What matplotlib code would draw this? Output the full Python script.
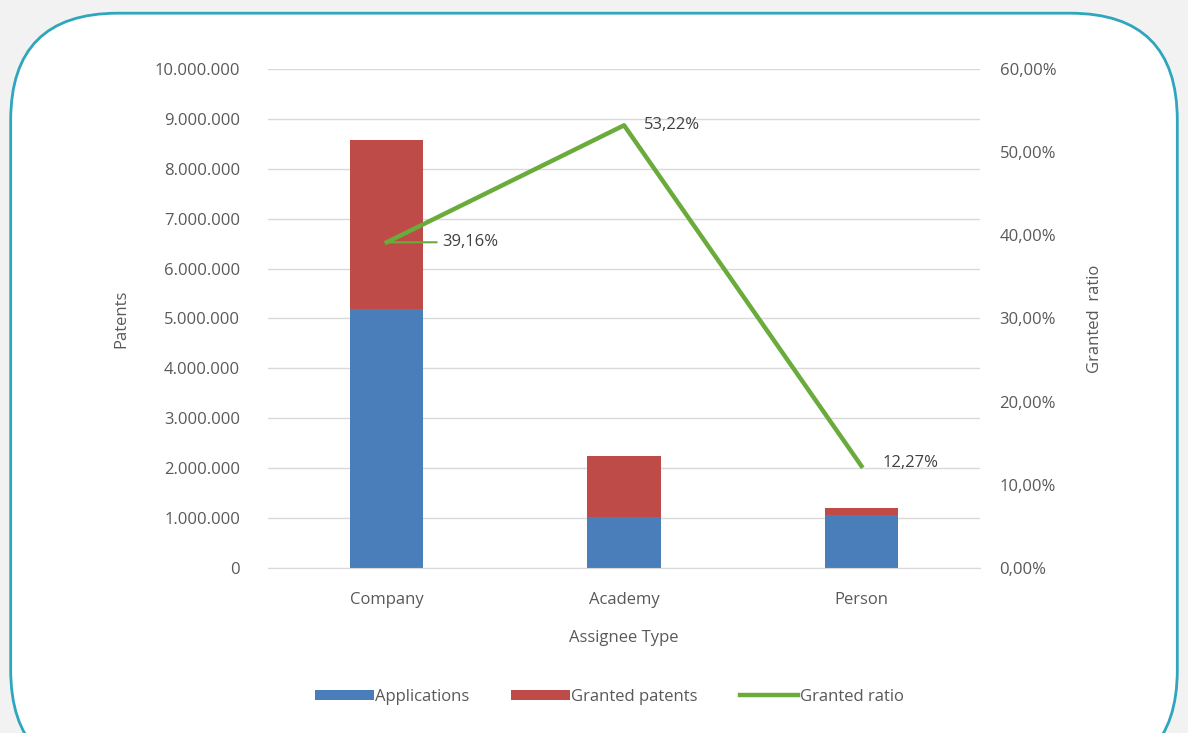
import matplotlib

matplotlib.use("Agg")
import matplotlib.pyplot as plt
from matplotlib.patches import FancyBboxPatch
from matplotlib.ticker import FuncFormatter, MultipleLocator

plt.rcParams["font.family"] = ["Open Sans", "DejaVu Sans"]

# data
categories = ["Company", "Academy", "Person"]
applications = [5190000, 1020000, 1060000]
granted = [3390000, 1220000, 140000]
ratio = [39.16, 53.22, 12.27]

BLUE = "#4a7ebb"
RED = "#be4b48"
GREEN = "#6aab3c"
TEXT = "#595959"

fig = plt.figure(figsize=(11.88, 7.33), dpi=100)
fig.patch.set_facecolor("#f2f2f2")

# rounded white panel with teal border, behind the axes
panel = FancyBboxPatch((0.009, -0.06), 0.982, 1.042,
                       boxstyle="round,pad=0,rounding_size=0.09",
                       transform=fig.transFigure, facecolor="white",
                       edgecolor="#2ea6bd", linewidth=2, mutation_aspect=1188 / 733,
                       zorder=-5)
fig.patches.append(panel)

ax = fig.add_axes([0.2256, 0.225, 0.5994, 0.681])
ax.set_facecolor("none")
x = range(len(categories))
ax.bar(x, applications, width=0.31, color=BLUE, label="Applications", zorder=2)
ax.bar(x, granted, width=0.31, bottom=applications, color=RED,
       label="Granted patents", zorder=2)

ax.set_xlim(-0.5, 2.5)
ax.set_ylim(0, 10000000)
ax.yaxis.set_major_locator(MultipleLocator(1000000))
ax.yaxis.set_major_formatter(FuncFormatter(lambda v, p: f"{int(v):,}".replace(",", ".")))
ax.grid(axis="y", color="#d9d9d9", linewidth=1, zorder=0)
ax.set_axisbelow(True)
ax.set_xticks(list(x))
ax.set_xticklabels(categories)
for s in ax.spines.values():
    s.set_visible(False)
ax.spines["bottom"].set_visible(True)
ax.spines["bottom"].set_color("#d9d9d9")
ax.tick_params(length=0, colors=TEXT, labelsize=12)
ax.tick_params(axis="y", pad=20)
ax.tick_params(axis="x", pad=17)
ax.set_ylabel("Patents", color=TEXT, fontsize=12, labelpad=18)
ax.set_xlabel("Assignee Type", color=TEXT, fontsize=12, labelpad=16)

ax2 = ax.twinx()
ax2.plot(list(x), ratio, color=GREEN, linewidth=3.2, label="Granted ratio", zorder=3)
ax2.set_ylim(0, 60)
ax2.yaxis.set_major_locator(MultipleLocator(10))
ax2.yaxis.set_major_formatter(FuncFormatter(lambda v, p: f"{v:.2f}%".replace(".", ",")))
for s in ax2.spines.values():
    s.set_visible(False)
ax2.tick_params(length=0, colors=TEXT, labelsize=12, pad=14)
ax2.set_ylabel("Granted  ratio", color=TEXT, fontsize=12, labelpad=22)

# data labels
ax2.annotate(f"{ratio[0]:.2f}%".replace(".", ","), xy=(0, ratio[0]), xytext=(40, 0),
             textcoords="offset points", va="center", ha="left", fontsize=12, color="#404040",
             arrowprops=dict(arrowstyle="-", color=GREEN, lw=1.5, shrinkA=2, shrinkB=0))
ax2.annotate(f"{ratio[1]:.2f}%".replace(".", ","), xy=(1, ratio[1]), xytext=(14, 0),
             textcoords="offset points", va="center", ha="left", fontsize=12, color="#404040")
ax2.annotate(f"{ratio[2]:.2f}%".replace(".", ","), xy=(2, ratio[2]), xytext=(15, 2),
             textcoords="offset points", va="center", ha="left", fontsize=12, color="#404040")

h1, l1 = ax.get_legend_handles_labels()
h2, l2 = ax2.get_legend_handles_labels()
fig.legend(h1 + h2, l1 + l2, loc="center", bbox_to_anchor=(0.513, 0.049), ncol=3,
           frameon=False, fontsize=12, labelcolor=TEXT, handlelength=3.5,
           handleheight=0.6, handletextpad=0.1, columnspacing=2.5)

fig.savefig("out.png", dpi=100, facecolor=fig.get_facecolor())
